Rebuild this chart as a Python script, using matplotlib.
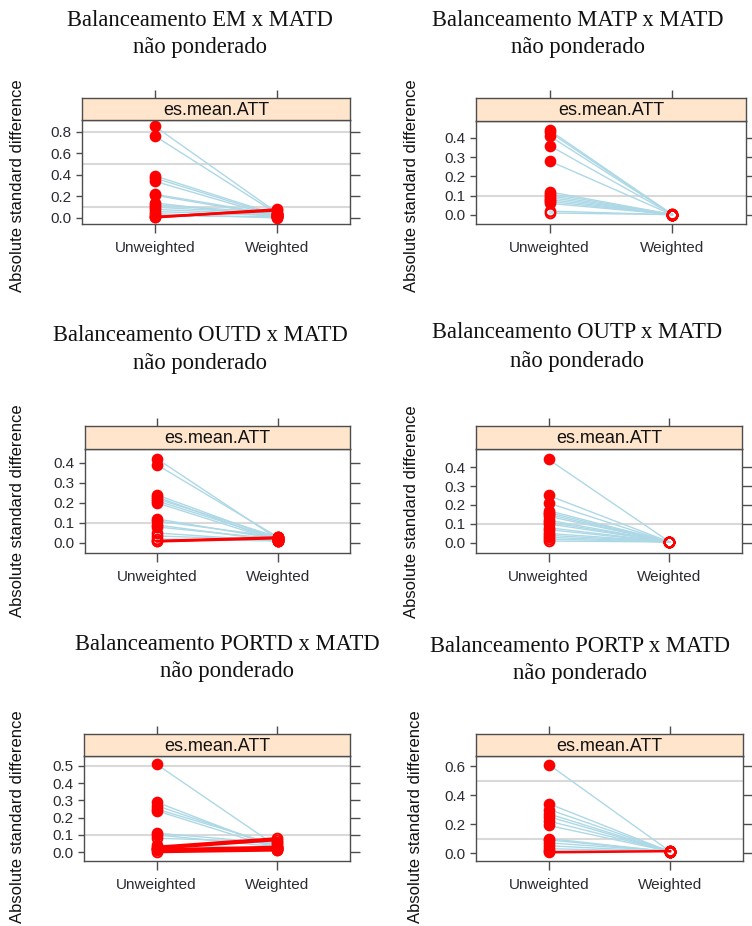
import numpy as np
import matplotlib.pyplot as plt

# balance data: (unweighted, weighted) absolute std. diff per covariate
titles = ['Balanceamento EM x MATD', 'Balanceamento MATP x MATD',
          'Balanceamento OUTD x MATD', 'Balanceamento OUTP x MATD',
          'Balanceamento PORTD x MATD', 'Balanceamento PORTP x MATD']
subtitle = 'não ponderado'
groups = ['Unweighted', 'Weighted']
strip_label = 'es.mean.ATT'

em_unw = [0.85, 0.76, 0.39, 0.37, 0.34, 0.22, 0.21, 0.14, 0.12, 0.10, 0.08, 0.06, 0.04, 0.02, 0.01, 0.005]
em_w = [0.05, 0.04, 0.03, 0.02, 0.01, 0.03, 0.02, 0.01, 0.05, 0.04, 0.03, 0.02, 0.0, 0.01, 0.07, 0.08]
em_sig_unw = [1, 1, 1, 1, 1, 1, 1, 1, 1, 1, 1, 1, 1, 1, 1, 0]
em_sig_w = [1, 1, 1, 0, 0, 1, 0, 0, 1, 1, 1, 0, 0, 0, 1, 1]

matp_unw = [0.44, 0.43, 0.41, 0.36, 0.28, 0.12, 0.11, 0.10, 0.09, 0.08, 0.07, 0.06, 0.02, 0.01]
matp_w = [0.002, 0.001, 0.003, 0.002, 0.001, 0.002, 0.003, 0.001, 0.002, 0.001, 0.002, 0.003, 0.001, 0.002]
matp_sig_unw = [1, 1, 1, 1, 1, 1, 1, 1, 1, 1, 1, 1, 0, 0]
matp_sig_w = [0] * 14

outd_unw = [0.42, 0.39, 0.24, 0.23, 0.22, 0.21, 0.20, 0.12, 0.11, 0.09, 0.08, 0.05, 0.035, 0.02, 0.01, 0.008]
outd_w = [0.02, 0.03, 0.02, 0.01, 0.03, 0.02, 0.01, 0.02, 0.03, 0.01, 0.02, 0.01, 0.015, 0.01, 0.028, 0.024]
outd_sig_unw = [1, 1, 1, 1, 1, 1, 1, 1, 1, 1, 1, 0, 0, 0, 0, 0]
outd_sig_w = [1] * 16

outp_unw = [0.44, 0.25, 0.21, 0.17, 0.16, 0.15, 0.14, 0.12, 0.11, 0.10, 0.08, 0.07, 0.05, 0.04, 0.03, 0.02, 0.01]
outp_w = [0.006, 0.005, 0.004, 0.006, 0.005, 0.004, 0.006, 0.005, 0.004, 0.006, 0.005, 0.004, 0.006, 0.005, 0.004, 0.006, 0.005]
outp_sig_unw = [1] * 15 + [0, 0]
outp_sig_w = [0] * 17

portd_unw = [0.51, 0.29, 0.27, 0.25, 0.24, 0.11, 0.10, 0.08, 0.04, 0.03, 0.025, 0.02, 0.015, 0.01, 0.0]
portd_w = [0.03, 0.02, 0.03, 0.04, 0.02, 0.05, 0.03, 0.06, 0.02, 0.08, 0.01, 0.07, 0.03, 0.02, 0.01]
portd_sig_unw = [1, 1, 1, 1, 1, 1, 1, 0, 1, 1, 1, 1, 0, 1, 0]
portd_sig_w = [1, 1, 1, 1, 1, 1, 1, 1, 1, 0, 1, 0, 1, 1, 0]

portp_unw = [0.61, 0.34, 0.30, 0.27, 0.25, 0.22, 0.19, 0.10, 0.09, 0.07, 0.05, 0.03, 0.015, 0.005]
portp_w = [0.01, 0.008, 0.012, 0.01, 0.009, 0.011, 0.01, 0.008, 0.01, 0.012, 0.009, 0.01, 0.011, 0.013]
portp_sig_unw = [1] * 13 + [0]
portp_sig_w = [0] * 14

panels = [
    (em_unw, em_w, em_sig_unw, em_sig_w),
    (matp_unw, matp_w, matp_sig_unw, matp_sig_w),
    (outd_unw, outd_w, outd_sig_unw, outd_sig_w),
    (outp_unw, outp_w, outp_sig_unw, outp_sig_w),
    (portd_unw, portd_w, portd_sig_unw, portd_sig_w),
    (portp_unw, portp_w, portp_sig_unw, portp_sig_w),
]
ref_lines = [0.1, 0.5, 0.8]

# layout (pixels): panel box left, right, strip top, strip bottom, panel bottom
boxes = [(82, 350, 98, 120, 224), (476, 746, 98, 121, 224),
         (85, 350, 426, 449, 553), (476, 742, 426, 449, 553),
         (84, 350, 734, 756, 861), (476, 743, 734, 756, 861)]
ylims = [(-0.056, 0.91), (-0.047, 0.488), (-0.05, 0.47),
         (-0.053, 0.495), (-0.052, 0.558), (-0.055, 0.669)]
ytick_steps = [0.2, 0.1, 0.1, 0.1, 0.1, 0.2]
title_pos = [(200, 20, 48), (578, 20, 48), (200, 335, 363),
             (577, 333, 361), (227, 645, 672), (580, 646, 674)]
ylab_pos = [(18, 186), (412, 186), (18, 511), (412, 512), (18, 817), (415, 817)]

W, H = 752, 926
plt.rcParams['font.family'] = ['Liberation Sans', 'DejaVu Sans']
fig = plt.figure(figsize=(W / 100, H / 100), dpi=100)
frame = '#4d4d4d'
txt = '#2b2b33'

for i, (unw, w, su, sw) in enumerate(panels):
    l, r, st, sb, pb = boxes[i]
    ax = fig.add_axes([l / W, 1 - pb / H, (r - l) / W, (pb - sb) / H])
    sax = fig.add_axes([l / W, 1 - sb / H, (r - l) / W, (sb - st) / H])

    ax.set_xlim(0.4, 2.6)
    ax.set_ylim(*ylims[i])
    for v in ref_lines:
        if ylims[i][0] < v < ylims[i][1]:
            ax.axhline(v, color='#d9d9d9', lw=1.5, zorder=0)

    x = [1, 2]
    for a, b in zip(unw, w):
        col = 'red' if b > a else '#add8e6'
        ax.plot(x, [a, b], color=col, lw=1.8 if b > a else 1.0, zorder=1)
    for xi, vals, sig in [(1, unw, su), (2, w, sw)]:
        for v, s in zip(vals, sig):
            ax.plot(xi, v, 'o', ms=7, mec='red', mew=1.4,
                    mfc='red' if s else 'none', zorder=3)

    step = ytick_steps[i]
    yt = np.arange(0, ylims[i][1], step)
    ax.set_yticks(yt)
    ax.set_yticklabels([f'{t:.1f}' for t in yt])
    ax.set_xticks(x)
    ax.set_xticklabels(groups)
    ax.tick_params(axis='x', direction='out', length=6.5, width=1, color=frame,
                   labelsize=11, labelcolor=txt, pad=6)
    ax.tick_params(axis='y', which='both', direction='out', length=4.5, width=1,
                   color=frame, labelsize=11, labelcolor=txt, pad=3,
                   right=True, labelright=False)
    for t in ax.yaxis.get_major_ticks():
        t.tick2line.set_markersize(7)
    for sp in ax.spines.values():
        sp.set_color(frame)
        sp.set_linewidth(1.0)

    # strip
    sax.set_facecolor('#ffe5cc')
    sax.set_xlim(0.4, 2.6)
    sax.set_xticks(x)
    sax.set_yticks([])
    sax.tick_params(axis='x', top=True, bottom=False, labeltop=False,
                    labelbottom=False, direction='out', length=6, width=1, color=frame)
    for sp in sax.spines.values():
        sp.set_color(frame)
        sp.set_linewidth(1.0)
    sax.text(0.5, 0.45, strip_label, transform=sax.transAxes, ha='center',
             va='center', fontsize=13, color='#111111')

    cx, y1, y2 = title_pos[i]
    fig.text(cx / W, 1 - y1 / H, titles[i], ha='center', va='center',
             family='Liberation Serif', fontsize=16.3, color='#111111')
    fig.text(cx / W, 1 - y2 / H, subtitle, ha='center', va='center',
             family='Liberation Serif', fontsize=16.3, color='#111111')
    lx, ly = ylab_pos[i]
    fig.text(lx / W, 1 - ly / H, 'Absolute standard difference', rotation=90,
             ha='center', va='center', fontsize=12, color='#111111')

fig.savefig('out.png', dpi=100, facecolor='white')
